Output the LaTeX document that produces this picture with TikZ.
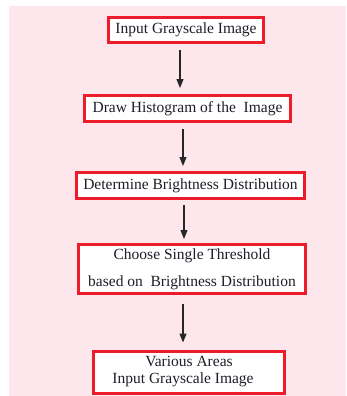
\documentclass[tikz,border=0pt]{standalone}
\usepackage{fontspec}
\setmainfont{Liberation Serif}
\usetikzlibrary{arrows.meta}
\definecolor{bgpink}{HTML}{FDE6EC}
\definecolor{boxred}{HTML}{EC1C2A}
\definecolor{txt}{HTML}{1E1E28}
\begin{document}
\begin{tikzpicture}[x=1pt,y=-1pt,
  box/.style={draw=boxred, line width=3pt, fill=white, inner sep=0pt, align=center,
    text=txt, font=\fontsize{15.5}{17}\selectfont},
  arr/.style={draw=black!85, line width=1.1pt, -{Triangle[width=7pt,length=9pt]}}]
\useasboundingbox (0,0) rectangle (346,396);
\fill[bgpink] (9,6) rectangle (346,396);
\node[box, minimum width=155pt, minimum height=25pt] (b1) at (186,30) {Input Grayscale Image};
\node[box, minimum width=206pt, minimum height=26pt] (b2) at (187.5,108.5) {Draw Histogram of the\ \ Image};
\node[box, minimum width=228pt, minimum height=26pt] (b3) at (190.5,185.5) {Determine Brightness Distribution};
\node[box, minimum width=227pt, minimum height=49pt] (b4) at (192,269) {Choose Single Threshold\\[10pt]based on\ \ Brightness Distribution};
\node[box, minimum width=191pt, minimum height=42pt] (b5) at (189,372) {Various Areas\\Input Grayscale Image\hspace*{12pt}};
\draw[arr] ([xshift=-6pt,yshift=-6pt]b1.south) -- ([xshift=-6pt,yshift=6pt]b1.south |- b2.north);
\draw[arr] ([xshift=-4.5pt,yshift=-6pt]b2.south) -- ([xshift=-4.5pt,yshift=5pt]b2.south |- b3.north);
\draw[arr] ([xshift=-6.5pt,yshift=-5pt]b3.south) -- ([xshift=-6.5pt,yshift=4pt]b3.south |- b4.north);
\draw[arr] ([xshift=-9pt,yshift=-9pt]b4.south) -- ([xshift=-9pt,yshift=7pt]b4.south |- b5.north);
\end{tikzpicture}
\end{document}
